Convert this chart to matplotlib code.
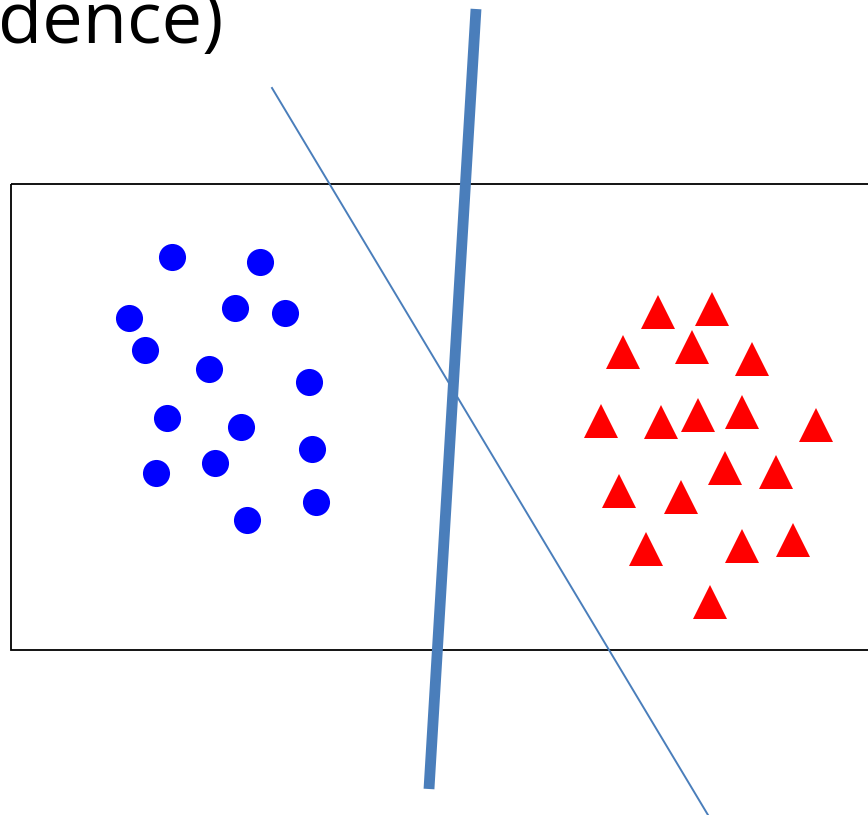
import matplotlib
matplotlib.use("Agg")
import matplotlib.pyplot as plt
from matplotlib.patches import Rectangle

# Class A: circles
circle_x = [172, 260, 129, 235, 285, 145, 209, 309, 167, 241, 312, 156, 215, 316, 247]
circle_y = [257, 262, 318, 308, 313, 350, 369, 382, 418, 427, 449, 473, 463, 502, 520]

# Class B: triangles
tri_x = [658, 712, 623, 692, 752, 601, 661, 698, 742, 816,
         725, 776, 619, 681, 646, 742, 793, 710]
tri_y = [312, 309, 352, 347, 359, 421, 422, 415, 412, 425,
         468, 472, 491, 497, 549, 546, 540, 602]

# Two candidate separating lines (endpoints)
thick_line_x = [476, 429]
thick_line_y = [9, 789]
thin_line_x = [272, 708]
thin_line_y = [88, 815]

W, H = 868, 815
fig = plt.figure(figsize=(W / 100, H / 100), dpi=100)
ax = fig.add_axes([0, 0, 1, 1])
ax.set_xlim(0, W)
ax.set_ylim(H, 0)
ax.axis("off")

# Feature-space box
ax.add_patch(Rectangle((11, 184), 900, 466, fill=False, edgecolor="black",
                       linewidth=1.3, zorder=1))

ax.plot(circle_x, circle_y, linestyle="none", marker="o", markersize=19.5,
        color="#0000ff", markeredgewidth=0, zorder=3)
ax.plot(tri_x, tri_y, linestyle="none", marker="^", markersize=25,
        color="#ff0000", markeredgewidth=0, zorder=3)

ax.plot(thin_line_x, thin_line_y, color="#4a7ebb", linewidth=1.4, zorder=2)
ax.plot(thick_line_x, thick_line_y, color="#4a7ebb", linewidth=7.8,
        solid_capstyle="butt", zorder=4)

ax.text(223, 43, "dence)", fontsize=52, family="Open Sans", ha="right",
        va="baseline", color="black")

fig.savefig("out.png", dpi=100)
